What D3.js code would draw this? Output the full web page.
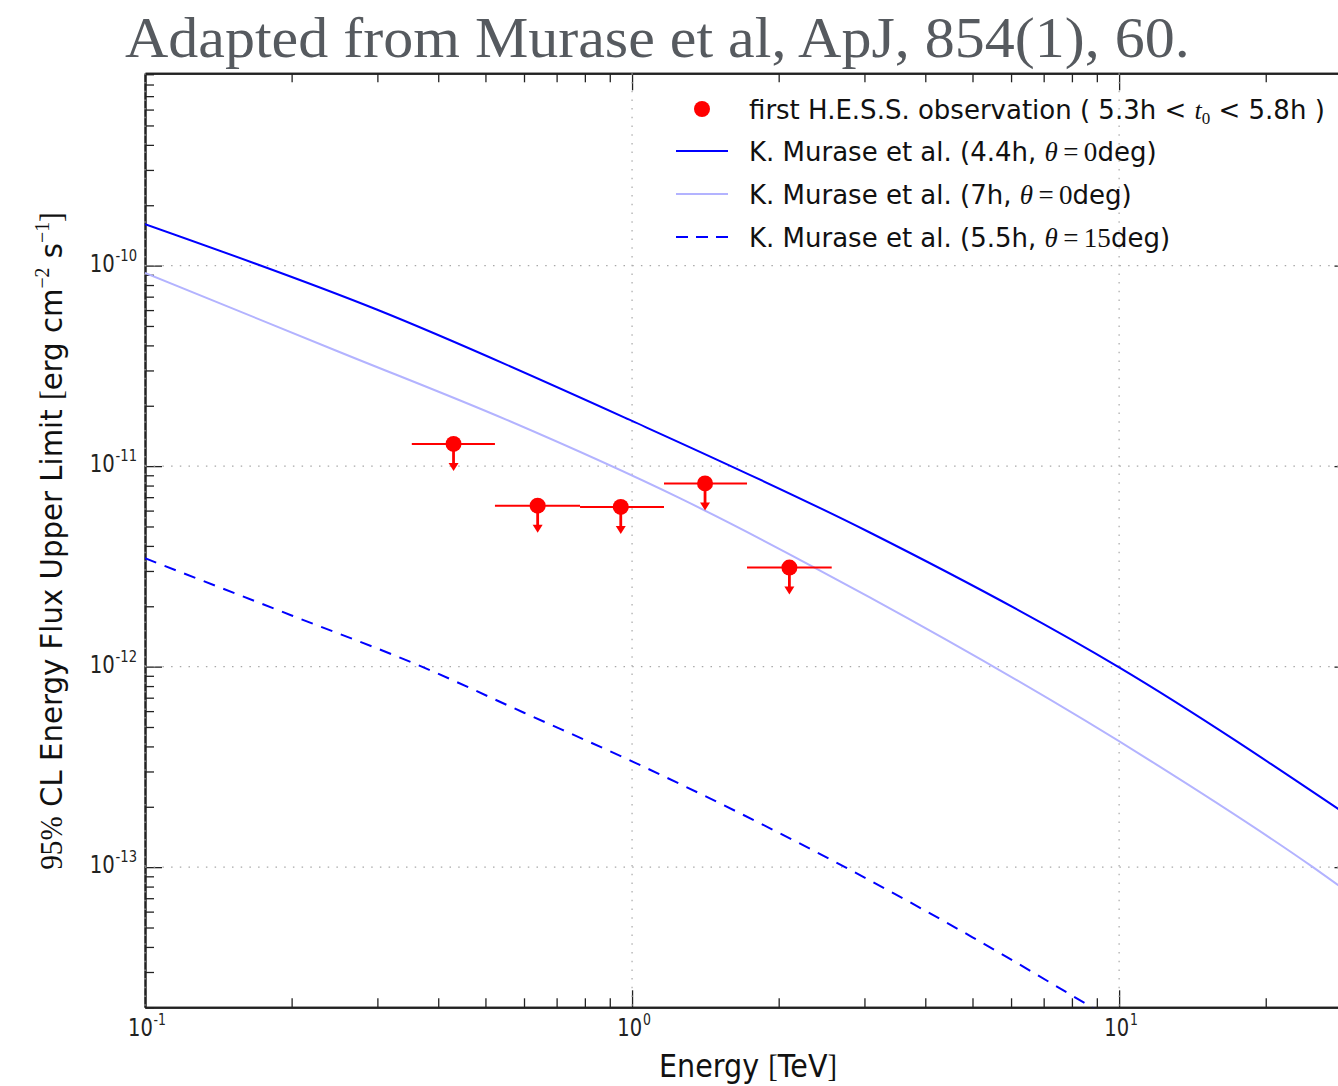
<!DOCTYPE html>
<html>
<head>
<meta charset="utf-8">
<script src="https://cdn.jsdelivr.net/npm/d3@7"></script>
<style>
  html, body { margin: 0; padding: 0; background: #ffffff; }
  svg { display: block; }
</style>
</head>
<body>
<script>
// H.E.S.S. upper limits (first observation) against Murase et al. model spectra
const hessEnergy   = [0.430, 0.640, 0.948, 1.412, 2.104];          // TeV
const hessBinLow   = [0.353, 0.523, 0.782, 1.163, 1.722];          // TeV
const hessBinHigh  = [0.523, 0.782, 1.163, 1.722, 2.570];          // TeV
const hessFluxUL   = [1.29e-11, 6.35e-12, 6.26e-12, 8.20e-12, 3.12e-12]; // erg cm^-2 s^-1

const model44hEnergy = [0.1, 0.299, 1.0, 3.07, 10, 30];
const model44hFlux   = [1.61e-10, 6.04e-11, 1.68e-11, 4.68e-12, 9.92e-13, 1.76e-13];

const model7hEnergy  = [0.1, 0.25, 0.553, 1.256, 3.07, 11.58, 25.0, 30];
const model7hFlux    = [9.2e-11, 3.72e-11, 1.70e-11, 6.90e-12, 2.22e-12, 3.40e-13, 1.0e-13, 7.3e-14];

const model55hEnergy = [0.1, 0.2, 0.37, 0.6, 1.0, 2.737, 5.0, 8.79, 10];
const model55hFlux   = [3.47e-12, 1.80e-12, 1.0e-12, 5.89e-13, 3.37e-13, 1.0e-13, 4.47e-14, 2.0e-14, 1.66e-14];

const xTickExponents = [-1, 0, 1];
const yTickExponents = [-13, -12, -11, -10];

const legendLabels = [
  "first H.E.S.S. observation",
  "K. Murase et al. (4.4h, ",
  "K. Murase et al. (7h, ",
  "K. Murase et al. (5.5h, "
];
const legendAngles = ["0", "0", "15"];

// ---------------------------------------------------------------------------
const W = 1338, H = 1086;
const plot = { left: 145, right: 1351.5, top: 73.3, bottom: 1007.3 };

const RED = "#ff0000", BLUE = "#0000ff", LIGHT = "#b3b3ff";
const SANS = "'DejaVu Sans', sans-serif";
const SERIF = "'Liberation Serif', 'DejaVu Serif', serif";
const INK = "#222222";

const svg = d3.select("body").append("svg")
  .attr("width", W).attr("height", H)
  .attr("viewBox", `0 0 ${W} ${H}`);

svg.append("rect").attr("width", W).attr("height", H).attr("fill", "#ffffff");

const x = d3.scaleLog().domain([0.1, 30]).range([plot.left, plot.right]);
const y = d3.scaleLog().domain([2e-14, 9.1e-10]).range([plot.bottom, plot.top]);

function minorTicks(scale) {
  const [a, b] = scale.domain();
  const out = [];
  for (let e = Math.floor(Math.log10(a)); e <= Math.ceil(Math.log10(b)); e++) {
    for (let k = 2; k <= 9; k++) {
      const v = k * Math.pow(10, e);
      if (v >= a * 0.9999 && v <= b * 1.0001) out.push(v);
    }
  }
  return out;
}
const xMajor = xTickExponents.map(e => Math.pow(10, e));
const yMajor = yTickExponents.map(e => Math.pow(10, e));
const xMinor = minorTicks(x);
const yMinor = minorTicks(y);

svg.append("defs").append("clipPath").attr("id", "plot-clip")
  .append("rect")
  .attr("x", plot.left).attr("y", plot.top)
  .attr("width", plot.right - plot.left).attr("height", plot.bottom - plot.top);

// ---- axes: inward ticks on all four sides ---------------------------------
function styleAxis(g) {
  g.selectAll("path.domain").attr("stroke", INK).attr("stroke-width", 2);
  g.selectAll(".tick line").attr("stroke", INK).attr("stroke-width", 1.3);
  g.selectAll(".tick text").remove();
}
const axes = svg.append("g");
const makeAxes = [
  [d3.axisBottom(x), plot.bottom, true],
  [d3.axisTop(x), plot.top, true],
  [d3.axisLeft(y), plot.left, false],
  [d3.axisRight(y), plot.right, false]
];
makeAxes.forEach(([axis, pos, horiz]) => {
  const major = horiz ? xMajor : yMajor;
  const minor = horiz ? xMinor : yMinor;
  const tr = horiz ? `translate(0,${pos})` : `translate(${pos},0)`;
  axes.append("g").attr("transform", tr)
    .call(axis.tickValues(minor).tickSizeInner(-9).tickSizeOuter(0).tickFormat(""))
    .call(styleAxis);
  axes.append("g").attr("transform", tr)
    .call(axis.tickValues(major).tickSizeInner(-17).tickSizeOuter(0).tickFormat(""))
    .call(styleAxis);
});

// ---- dotted grid at major ticks -------------------------------------------
const grid = svg.append("g")
  .attr("stroke", "#a8a8a8").attr("stroke-width", 1.2)
  .attr("stroke-dasharray", "1.5,7.2");
grid.selectAll("line.gx").data(xMajor).join("line")
  .attr("x1", d => x(d)).attr("x2", d => x(d))
  .attr("y1", plot.top).attr("y2", plot.bottom);
grid.selectAll("line.gy").data(yMajor).join("line")
  .attr("x1", plot.left).attr("x2", plot.right)
  .attr("y1", d => y(d)).attr("y2", d => y(d));

// ---- tick labels (10^n) ---------------------------------------------------
function powerLabel(parent, tx, ty, exp, anchor, sx, size) {
  const g = parent.append("g").attr("transform", `translate(${tx},${ty}) scale(${sx},1)`);
  const t = g.append("text")
    .attr("text-anchor", anchor)
    .attr("font-family", SANS).attr("font-size", size).attr("fill", INK);
  t.append("tspan").text("10");
  t.append("tspan").attr("dy", -0.45 * size).attr("dx", 1)
    .attr("font-size", Math.round(size * 0.65)).text(String(exp));
}
const tickLabels = svg.append("g");
xTickExponents.forEach(e => powerLabel(tickLabels, x(Math.pow(10, e)) + 2, 1036, e, "middle", 0.78, 25));
yTickExponents.forEach(e => powerLabel(tickLabels, 137, y(Math.pow(10, e)) + 6, e, "end", 0.82, 24));

// ---- model curves ---------------------------------------------------------
const curves = svg.append("g").attr("clip-path", "url(#plot-clip)");
const line = d3.line().x(d => x(d[0])).y(d => y(d[1])).curve(d3.curveMonotoneX);
const models = [
  { e: model7hEnergy,  f: model7hFlux,  color: LIGHT, dash: null },
  { e: model44hEnergy, f: model44hFlux, color: BLUE,  dash: null },
  { e: model55hEnergy, f: model55hFlux, color: BLUE,  dash: "12,9" }
];
models.forEach(m => {
  curves.append("path")
    .datum(d3.zip(m.e, m.f))
    .attr("d", line)
    .attr("fill", "none")
    .attr("stroke", m.color)
    .attr("stroke-width", 2)
    .attr("stroke-dasharray", m.dash);
});

// ---- H.E.S.S. upper limits ------------------------------------------------
const pts = svg.append("g").attr("clip-path", "url(#plot-clip)");
const hess = d3.range(hessEnergy.length).map(i => ({
  e: hessEnergy[i], lo: hessBinLow[i], hi: hessBinHigh[i], f: hessFluxUL[i]
}));
pts.selectAll("line.xerr").data(hess).join("line")
  .attr("x1", d => x(d.lo)).attr("x2", d => x(d.hi))
  .attr("y1", d => y(d.f)).attr("y2", d => y(d.f))
  .attr("stroke", RED).attr("stroke-width", 2);
pts.selectAll("line.shaft").data(hess).join("line")
  .attr("x1", d => x(d.e)).attr("x2", d => x(d.e))
  .attr("y1", d => y(d.f)).attr("y2", d => y(d.f) + 21)
  .attr("stroke", RED).attr("stroke-width", 2.8);
pts.selectAll("path.head").data(hess).join("path")
  .attr("d", d => {
    const cx = x(d.e), cy = y(d.f);
    return `M${cx - 5},${cy + 19} L${cx + 5},${cy + 19} L${cx},${cy + 27} Z`;
  })
  .attr("fill", RED);
pts.selectAll("circle").data(hess).join("circle")
  .attr("cx", d => x(d.e)).attr("cy", d => y(d.f)).attr("r", 8)
  .attr("fill", RED);

// ---- legend ---------------------------------------------------------------
const legend = svg.append("g");
const rowY = [109, 151, 194, 237];
legend.append("circle").attr("cx", 702).attr("cy", rowY[0]).attr("r", 8).attr("fill", RED);
[
  { color: BLUE,  dash: null },
  { color: LIGHT, dash: null },
  { color: BLUE,  dash: "12,8" }
].forEach((s, i) => {
  legend.append("line")
    .attr("x1", 676).attr("x2", 728)
    .attr("y1", rowY[i + 1]).attr("y2", rowY[i + 1])
    .attr("stroke", s.color).attr("stroke-width", 2)
    .attr("stroke-dasharray", s.dash);
});

const legText = legend.append("g")
  .attr("font-family", SANS).attr("font-size", 26).attr("fill", "#111111");
{
  const t = legText.append("text").attr("x", 749).attr("y", rowY[0] + 9.5);
  t.append("tspan").text(legendLabels[0] + " ( 5.3h < ");
  t.append("tspan").attr("font-family", SERIF).attr("font-style", "italic").text("t");
  t.append("tspan").attr("font-family", SERIF).attr("font-size", 17).attr("dy", 5).text("0");
  t.append("tspan").attr("dy", -5).text(" < 5.8h )");
}
legendAngles.forEach((ang, i) => {
  const t = legText.append("text").attr("x", 749).attr("y", rowY[i + 1] + 9.5);
  t.append("tspan").text(legendLabels[i + 1]);
  t.append("tspan").attr("font-family", SERIF).attr("font-style", "italic").attr("font-size", 27).text("\u03b8");
  t.append("tspan").attr("font-family", SERIF).attr("font-size", 27).text("\u2009=\u2009" + ang);
  t.append("tspan").text("deg)");
});

// ---- titles ---------------------------------------------------------------
// Horizontally condensed text block anchored at (tx, ty), squeezed to a given width.
function condensed(parent, tx, ty, width, anchor, rotate) {
  const g = parent.append("g");
  const t = g.append("text").attr("text-anchor", anchor);
  return {
    t,
    fit() {
      const w = t.node().getBBox().width;
      const s = width / w;
      g.attr("transform",
        `translate(${tx},${ty})${rotate ? ` rotate(${rotate})` : ""} scale(${s},1)`);
    }
  };
}

const title = condensed(svg, 125, 57, 1065, "start", 0);
title.t.attr("font-family", "'Liberation Serif', serif").attr("font-size", 58).attr("fill", "#565a5f")
  .text("Adapted from Murase et al, ApJ, 854(1), 60.");
title.fit();

const xTitle = condensed(svg, 748, 1077, 178, "middle", 0);
xTitle.t.attr("font-family", SANS).attr("font-size", 32).attr("fill", "#111111");
xTitle.t.append("tspan").text("Energy ");
xTitle.t.append("tspan").attr("font-family", SERIF).text("[");
xTitle.t.append("tspan").text("TeV");
xTitle.t.append("tspan").attr("font-family", SERIF).text("]");
xTitle.fit();

const yTitle = condensed(svg, 62, 541, 658, "middle", -90);
yTitle.t.attr("font-family", SANS).attr("font-size", 31).attr("fill", "#111111");
yTitle.t.append("tspan").attr("font-family", SERIF).text("95%");
yTitle.t.append("tspan").text(" CL Energy Flux Upper Limit ");
yTitle.t.append("tspan").attr("font-family", SERIF).text("[");
yTitle.t.append("tspan").text("erg cm");
yTitle.t.append("tspan").attr("font-family", SERIF).attr("font-size", 21).attr("dy", -13).text("\u22122");
yTitle.t.append("tspan").attr("dy", 13).text(" s");
yTitle.t.append("tspan").attr("font-family", SERIF).attr("font-size", 21).attr("dy", -13).text("\u22121");
yTitle.t.append("tspan").attr("font-family", SERIF).attr("dy", 13).text("]");
yTitle.fit();
</script>
</body>
</html>
